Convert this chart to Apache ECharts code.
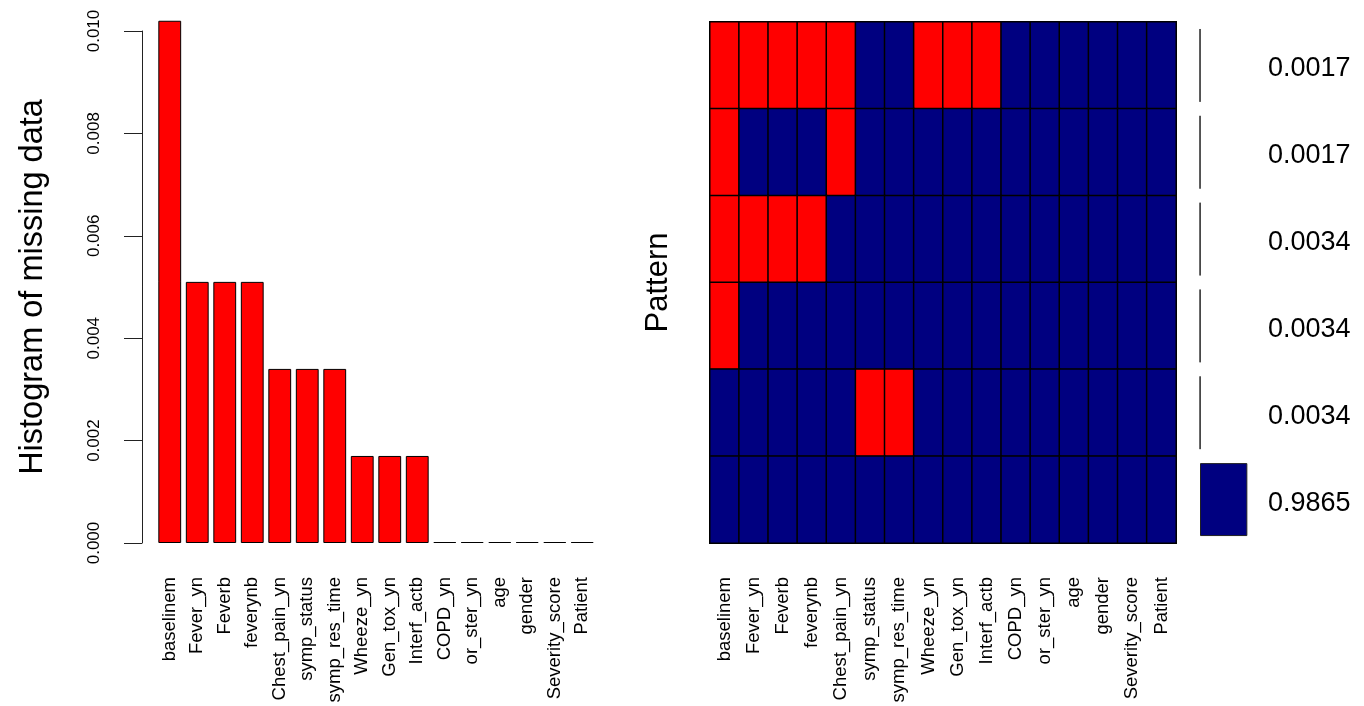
<!DOCTYPE html>
<html>
<head>
<meta charset="utf-8">
<title>Missing data overview</title>
<script src="https://cdn.jsdelivr.net/npm/echarts@6/dist/echarts.min.js"></script>
<style>
  html, body { margin: 0; padding: 0; background: #fff; }
  #chart { width: 1364px; height: 706px; }
</style>
</head>
<body>
<div id="chart"></div>
<script>
// Variables, in order of decreasing share of missing values
const variables = ['baselinem', 'Fever_yn', 'Feverb', 'feverynb', 'Chest_pain_yn',
  'symp_status', 'symp_res_time', 'Wheeze_yn', 'Gen_tox_yn', 'Interf_actb',
  'COPD_yn', 'or_ster_yn', 'age', 'gender', 'Severity_score', 'Patient'];

// Share of missing values per variable
const missingShare = [0.0102, 0.0051, 0.0051, 0.0051, 0.0034, 0.0034, 0.0034,
  0.0017, 0.0017, 0.0017, 0, 0, 0, 0, 0, 0];

// Histogram axis ticks
const histTicks = [0, 0.002, 0.004, 0.006, 0.008, 0.010];

// Missingness patterns (1 = missing, 0 = observed), top row first
const patterns = [
  [1, 1, 1, 1, 1, 0, 0, 1, 1, 1, 0, 0, 0, 0, 0, 0],
  [1, 0, 0, 0, 1, 0, 0, 0, 0, 0, 0, 0, 0, 0, 0, 0],
  [1, 1, 1, 1, 0, 0, 0, 0, 0, 0, 0, 0, 0, 0, 0, 0],
  [1, 0, 0, 0, 0, 0, 0, 0, 0, 0, 0, 0, 0, 0, 0, 0],
  [0, 0, 0, 0, 0, 1, 1, 0, 0, 0, 0, 0, 0, 0, 0, 0],
  [0, 0, 0, 0, 0, 0, 0, 0, 0, 0, 0, 0, 0, 0, 0, 0]
];

// Share of records following each pattern
const patternShare = [0.0017, 0.0017, 0.0034, 0.0034, 0.0034, 0.9865];

const MISSING = '#FF0000';
const OBSERVED = '#000080';
const FONT = "'Liberation Sans', Arial, sans-serif";

const patternIds = patterns.map((_, i) => 'P' + (i + 1));
const cells = [];
patterns.forEach((row, r) => row.forEach((v, c) => cells.push([c, r, v])));

const chart = echarts.init(document.getElementById('chart'), null, { renderer: 'canvas' });

chart.setOption({
  animation: false,
  backgroundColor: '#fff',
  textStyle: { fontFamily: FONT, color: '#000' },
  grid: [
    { left: 156, top: 31, width: 440, height: 512 },
    { left: 710, top: 22, width: 466, height: 521, show: true, borderColor: '#777', borderWidth: 1, backgroundColor: 'transparent' },
    { left: 1200, top: 22, width: 48, height: 521 }
  ],
  xAxis: [
    {
      gridIndex: 0, type: 'category', data: variables,
      axisLine: { show: false }, axisTick: { show: false },
      axisLabel: { rotate: 90, fontSize: 18.5, margin: 34, color: '#000', fontFamily: FONT, interval: 0 }
    },
    {
      gridIndex: 1, type: 'category', data: variables,
      axisLine: { show: false }, axisTick: { show: false }, splitLine: { show: false },
      axisLabel: { rotate: 90, fontSize: 18.5, margin: 34, color: '#000', fontFamily: FONT, interval: 0 }
    },
    {
      gridIndex: 2, type: 'value', min: 0, max: 1, show: false
    }
  ],
  yAxis: [
    {
      gridIndex: 0, type: 'value', min: histTicks[0], max: histTicks[histTicks.length - 1],
      interval: histTicks[1] - histTicks[0], offset: 14,
      name: 'Histogram of missing data', nameLocation: 'middle', nameGap: 92,
      nameTextStyle: { fontSize: 32.5, color: '#000', fontFamily: FONT },
      axisLine: { show: true, lineStyle: { color: '#222', width: 1 } },
      axisTick: { show: true, length: 18, lineStyle: { color: '#222', width: 1 } },
      splitLine: { show: false },
      axisLabel: {
        rotate: 90, fontSize: 17, margin: 39, color: '#000', fontFamily: FONT,
        formatter: v => v.toFixed(3)
      }
    },
    {
      gridIndex: 1, type: 'category', data: patternIds, inverse: true,
      name: 'Pattern', nameLocation: 'middle', nameGap: 36,
      nameTextStyle: { fontSize: 31, color: '#000', fontFamily: FONT },
      axisLine: { show: false }, axisTick: { show: false },
      axisLabel: { show: false }, splitLine: { show: false }
    },
    {
      gridIndex: 2, type: 'category', data: patternIds, inverse: true, position: 'right',
      axisLine: { show: false }, axisTick: { show: false }, splitLine: { show: false },
      axisLabel: {
        fontSize: 27, margin: 20, color: '#000', fontFamily: FONT,
        verticalAlign: 'top', padding: [-10, 0, 0, 0],
        formatter: (v, i) => patternShare[i].toFixed(4)
      }
    }
  ],
  visualMap: {
    show: false, type: 'piecewise', seriesIndex: 1, dimension: 2,
    pieces: [{ value: 0, color: OBSERVED }, { value: 1, color: MISSING }]
  },
  series: [
    {
      type: 'bar', xAxisIndex: 0, yAxisIndex: 0, data: missingShare,
      barCategoryGap: '17%', barMinHeight: 1, clip: false,
      itemStyle: { color: MISSING, borderColor: '#000', borderWidth: 1 }
    },
    {
      type: 'heatmap', xAxisIndex: 1, yAxisIndex: 1, data: cells,
      itemStyle: { borderColor: '#000', borderWidth: 1.5 }
    },
    {
      type: 'bar', xAxisIndex: 2, yAxisIndex: 2, data: patternShare,
      barCategoryGap: '16%',
      itemStyle: { color: OBSERVED, borderColor: '#222', borderWidth: 1 }
    }
  ]
});
</script>
</body>
</html>
